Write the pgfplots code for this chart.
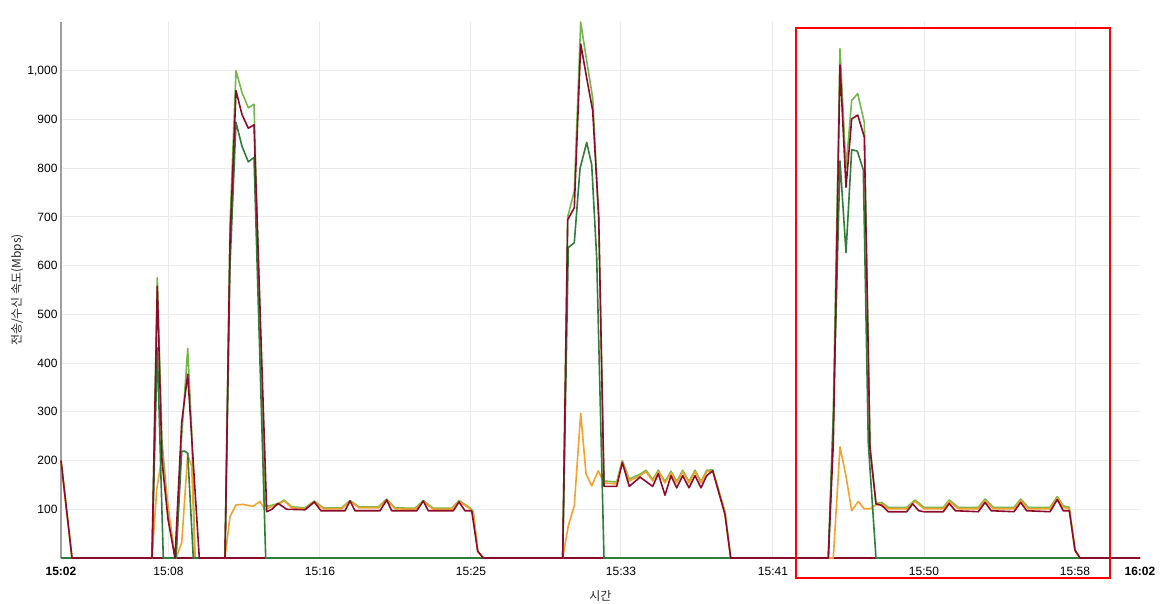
\documentclass[border=0pt]{standalone}
\usepackage{fontspec}
\setmainfont{Liberation Sans}
\newfontfamily\kr{Noto Sans CJK KR}
\usepackage{pgfplots}
\pgfplotsset{compat=1.18}
\definecolor{lgreen}{HTML}{74B84C}
\definecolor{dgreen}{HTML}{2E7D3A}
\definecolor{dred}{HTML}{8C0A2A}
\definecolor{orng}{HTML}{F2A22E}
\begin{document}
\begin{tikzpicture}
\path[use as bounding box] (-61bp,-46bp) rectangle (1101bp,558bp);
\begin{axis}[
  at={(0,0)}, anchor=south west,
  scale only axis, width=1079bp, height=536bp,
  xmin=61, xmax=1140, ymin=0, ymax=1100,
  clip=false,
  axis lines=left,
  axis line style={-},
  x axis line style={draw=dred, line width=1.6bp},
  y axis line style={draw=black!38, line width=2bp},
  major tick length=0pt,
  xtick={168.5,320,471,621,773,924,1075},
  xticklabels={15:08,15:16,15:25,15:33,15:41,15:50,15:58},
  extra x ticks={61,1140},
  extra x tick labels={\textbf{15:02},\textbf{16:02}},
  extra x tick style={grid=none},
  ytick={100,200,...,1000},
  yticklabels={100,200,300,400,500,600,700,800,900,{1,000}},
  grid=major,
  major grid style={draw=black!8, line width=1bp},
  ticklabel style={font=\fontsize{12bp}{14bp}\selectfont, text=black},
  xticklabel style={yshift=-6bp},
  xlabel={\kr 시간},
  ylabel={\kr 전송/수신 속도(Mbps)},
  xlabel style={yshift=-8bp},
  ylabel style={yshift=-3bp},
  label style={font=\fontsize{12bp}{14bp}\selectfont, text=black!85},
  every axis plot/.append style={line width=1.6bp, line join=round},
]
\addplot[lgreen] coordinates {(61,200)(72,0)(152,0)(157.3,575)(162,240)(168,100)(175,0)(176,0)(181.7,250)(187.7,430)(191.7,260)(195,0)(225,0)(230,685)(236,1000)(242,955)(248.3,924)(254,931)(265,106)(271.7,108)(278.3,112)(284.3,119)(291.7,105)(305,103)(314.3,117)(323.3,103)(341.7,103)(350,118)(359,105)(378.3,105)(386.7,121)(395,103)(415,102)(423.3,118)(433.3,102)(451.7,102)(459,118)(470,103)(473.3,95)(477.7,14)(483.3,0)(562.7,0)(567.7,700)(574.3,753)(580.7,1100)(586.7,1020)(592.7,944)(598.7,700)(604,158)(616.7,156)(622.3,200)(629.3,162)(640,172)(646,180)(652.7,161)(658.3,180)(665,157)(671,178)(676.7,157)(682.7,180)(689,157)(695,180)(701,157)(706.7,180)(712.7,181)(725,95)(730.7,0)(828.3,0)(833.3,300)(840,1045)(846,800)(851.7,939)(857.7,953)(864.3,894)(870,230)(876,112)(881.7,114)(888.3,104)(906.7,104)(915,119)(924,104)(943.3,104)(949.3,119)(958.3,104)(978.3,104)(985,121)(993.3,104)(1014,104)(1020.7,121)(1028.3,104)(1050,104)(1057.3,126)(1063.3,107)(1069.3,104)(1075,16)(1080,0)(1140,0)};
\addplot[orng] coordinates {(61,200)(72,0)(152,0)(156.7,140)(161.7,205)(175,0)(176,0)(181.7,31)(187.7,212)(191.7,188)(195,0)(225,0)(230,85)(236,109)(243,110)(248,108)(253,106)(260,116)(265,99)(271.7,106)(278.3,110)(284.3,117)(291.7,103)(305,101)(314.3,115)(323.3,101)(341.7,101)(350,116)(359,103)(378.3,103)(386.7,119)(395,101)(415,100)(423.3,116)(433.3,100)(451.7,100)(459,116)(470,101)(473.3,93)(477.7,14)(483.3,0)(562.7,0)(568.3,66)(574.3,108)(580.7,297)(586,173)(591.7,148)(598.3,179)(604,154)(616.7,152)(622.3,198)(629.3,158)(640,169)(646,177)(652.7,158)(658.3,177)(665,154)(671,175)(676.7,154)(682.7,177)(689,154)(695,177)(701,154)(706.7,177)(712.7,179)(725,93)(730.7,0)(833.3,0)(840,228)(846,168)(851.7,97)(858.3,116)(864,101)(870,101)(876,109)(881.7,111)(888.3,101)(906.7,101)(915,116)(924,101)(943.3,101)(949.3,116)(958.3,101)(978.3,101)(985,118)(993.3,101)(1014,101)(1020.7,118)(1028.3,101)(1050,101)(1057.3,123)(1063.3,104)(1069.3,101)(1075,16)(1080,0)(1140,0)};
\addplot[dgreen] coordinates {(61,0)(152,0)(157.3,431)(163.3,0)(176,0)(181.7,219)(185,219)(187.7,215)(193.3,0)(225,0)(230,600)(236,894)(242,845)(248.3,813)(254,822)(265.7,0)(562.7,0)(568.3,637)(574.3,647)(580,799)(586.7,853)(591.7,807)(596.7,616)(604,0)(828.3,0)(833.3,280)(840,815)(846,627)(851.7,838)(857.3,835)(863.3,797)(868.3,235)(876,0)(1140,0)};
\addplot[dred] coordinates {(61,200)(72,0)(152,0)(157.3,558)(162,200)(168,80)(175,0)(181.7,278)(187.7,377)(199.3,0)(225,0)(230,650)(236,959)(242,910)(248.3,882)(254,889)(266.7,95)(272,100)(278,112)(286.7,100)(305,99)(314.3,115)(321,97)(345,97)(350,117)(355,97)(380,97)(386.7,119)(391.7,97)(416.7,97)(423.3,117)(428.3,97)(453.3,97)(459,115)(465,97)(471.7,97)(477.7,14)(483.3,0)(562.7,0)(567.7,694)(574.3,719)(580.7,1055)(586.7,985)(592.7,918)(598.7,700)(604,147)(616.7,147)(622.3,196)(629.3,147)(640,166)(652.7,147)(658.3,173)(665,129)(671,169)(676.7,144)(682.7,169)(689,144)(695,169)(701,144)(706.7,169)(712.7,179)(725,89)(730.7,0)(828.3,0)(833.3,235)(840,1012)(846,761)(851.7,901)(857.7,909)(864.3,864)(870,225)(876,111)(881.7,108)(888.3,95)(906.7,95)(912.7,111)(918.7,97)(924,95)(943.3,95)(949.3,112)(955.3,97)(978.3,95)(985,114)(991.3,97)(1014,95)(1020.7,114)(1026.7,97)(1050,95)(1057.3,120)(1063.3,97)(1069.3,97)(1075,16)(1080,0)(1140,0)};
\end{axis}
\draw[red, line width=2bp] (735bp,-20bp) rectangle (1049bp,530bp);
\end{tikzpicture}
\end{document}
